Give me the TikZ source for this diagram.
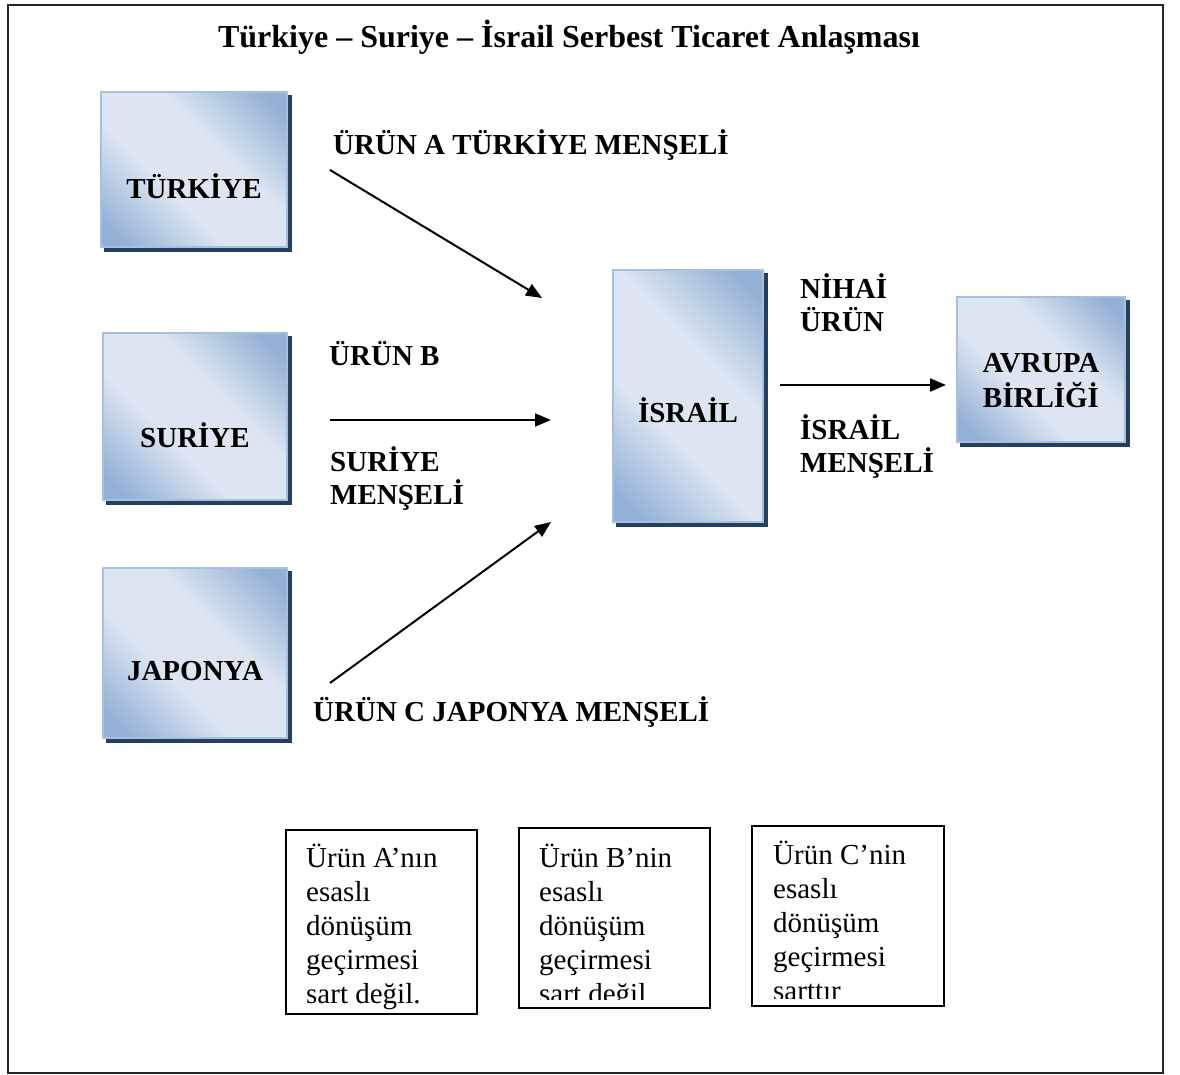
\documentclass[tikz,border=0pt]{standalone}
\usepackage{fontspec}
\setmainfont{Liberation Serif}
\usetikzlibrary{arrows.meta,backgrounds}
\definecolor{boxdark}{HTML}{93B1D6}
\definecolor{boxlight}{HTML}{DCE5F1}
\definecolor{boxedge}{HTML}{A7C0DE}
\definecolor{navy}{HTML}{243F60}
\pgfdeclareverticalshading{wordblue}{100bp}{color(0bp)=(boxdark); color(20bp)=(boxdark); color(40bp)=(boxlight); color(60bp)=(boxlight); color(80bp)=(boxdark); color(100bp)=(boxdark)}
\tikzset{
  cshadow/.style={fill=navy, draw=none},
  country/.style={draw=boxedge, line width=1.2pt, inner sep=0pt, shade, shading=wordblue, shading angle=-45},
  cname/.style={inner sep=0pt, align=center, font=\fontsize{29}{35}\selectfont\bfseries},
  lab/.style={inner sep=0pt, anchor=west, align=left, font=\fontsize{29}{33}\selectfont\bfseries},
  flow/.style={line width=2pt, -{Triangle[length=16pt,width=13pt]}},
  notebox/.style={draw, line width=1.4pt, inner sep=0pt},
  notetext/.style={inner sep=0pt, anchor=base west, align=left, font=\fontsize{29}{34}\selectfont}
}
\begin{document}
\begin{tikzpicture}[x=1pt,y=1pt]
\useasboundingbox (0,0) rectangle (1180,-1075);
\draw[line width=2pt, black!85] (8,-5) rectangle (1163,-1073);

\node[font=\fontsize{32}{36}\selectfont\bfseries] (title) at (569,-37) {Türkiye – Suriye – İsrail Serbest Ticaret Anlaşması};

\node[country, minimum width=186pt, minimum height=155pt] (tr) at (194,-169.5) {};
\node[country, minimum width=184pt, minimum height=167pt] (sy) at (195,-416.5) {};
\node[country, minimum width=184pt, minimum height=170pt] (jp) at (195,-653) {};
\node[country, minimum width=150pt, minimum height=252pt] (il) at (688,-396) {};
\node[country, minimum width=168pt, minimum height=145pt] (eu) at (1041,-369.5) {};

\begin{scope}[on background layer]
\foreach \b in {tr,sy,jp,il,eu}
  \fill[cshadow] ([shift={(4pt,-4pt)}]\b.south west) rectangle ([shift={(4pt,-4pt)}]\b.north east);
\end{scope}

\node[cname] (trt) at ([yshift=-17pt]tr.center) {TÜRKİYE};
\node[cname] (syt) at ([yshift=-19pt]sy.center) {SURİYE};
\node[cname] (jpt) at ([yshift=-18pt]jp.center) {JAPONYA};
\node[cname] (ilt) at ([yshift=-14pt]il.center) {İSRAİL};
\node[cname] (eut) at ([yshift=-11pt]eu.center) {AVRUPA\\BİRLİĞİ};

\coordinate (a1) at (330,-170);
\coordinate (a2) at (542,-298);
\coordinate (b1) at (330,-420);
\coordinate (b2) at (551,-420);
\coordinate (c1) at (330,-683);
\coordinate (c2) at (551,-522);
\coordinate (d1) at (780,-385);
\coordinate (d2) at (946,-385);
\draw[flow] (a1) -- (a2);
\draw[flow] (b1) -- (b2);
\draw[flow] (c1) -- (c2);
\draw[flow] (d1) -- (d2);

\node[lab] (la) at (333,-145) {ÜRÜN A TÜRKİYE MENŞELİ};
\node[lab] (lb) at (329,-354) {ÜRÜN B};
\node[lab] (lb2) at (330,-479) {SURİYE\\MENŞELİ};
\node[lab] (lc) at (313,-712) {ÜRÜN C JAPONYA MENŞELİ};
\node[lab] (ln) at (800,-303) {NİHAİ\\ÜRÜN};
\node[lab] (lm) at (800,-446.5) {İSRAİL\\MENŞELİ};

\node[notebox, minimum width=191pt, minimum height=184pt] (na) at (381.5,-922) {};
\node[notebox, minimum width=191pt, minimum height=180pt] (nb) at (614.5,-918) {};
\node[notebox, minimum width=192pt, minimum height=180pt] (nc) at (848,-916) {};

\begin{scope}
\clip (288,-832) rectangle (475,-1010);
\node[notetext] (ta) at (306,-1003) {Ürün A’nın\\esaslı\\dönüşüm\\geçirmesi\\sart değil.};
\end{scope}
\begin{scope}
\clip (521,-830) rectangle (708,-999.5);
\node[notetext] (tb) at (539,-1003) {Ürün B’nin\\esaslı\\dönüşüm\\geçirmesi\\sart değil};
\end{scope}
\begin{scope}
\clip (754,-828) rectangle (942,-998);
\node[notetext] (tc) at (773,-1000) {Ürün C’nin\\esaslı\\dönüşüm\\geçirmesi\\sarttır};
\end{scope}
\end{tikzpicture}
\end{document}
